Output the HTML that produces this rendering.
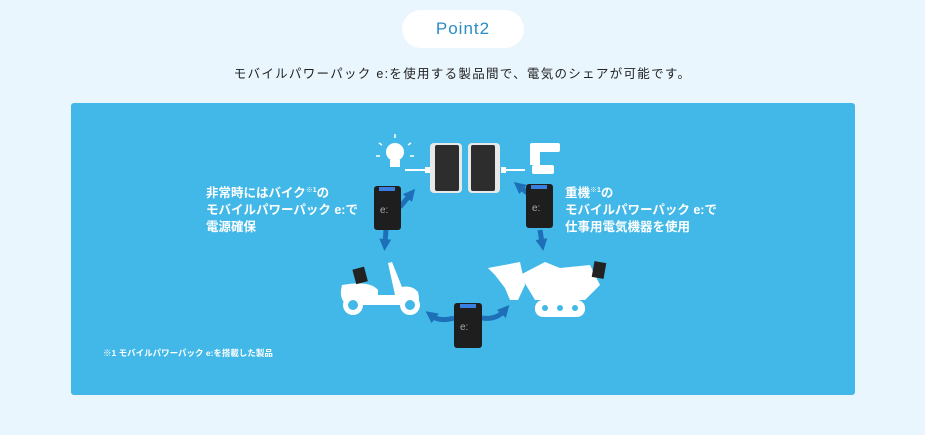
<!DOCTYPE html>
<html><head><meta charset="utf-8"><style>
html,body{margin:0;padding:0;width:925px;height:435px;background:#eaf6fd;overflow:hidden;font-family:"Liberation Sans","Noto Sans CJK JP",sans-serif}
.pill{position:absolute;left:402px;top:10px;width:122px;height:38px;border-radius:19px;background:#fff;color:#2a8cc4;font-size:17px;text-align:center;line-height:38px;letter-spacing:1px}
.sub{position:absolute;left:0;width:925px;top:63px;text-align:center;font-size:12.5px;color:#222;letter-spacing:1.3px}
.panel{position:absolute;left:71px;top:103px;width:784px;height:292px;background:#42b8e8;border-radius:3px}
.t{position:absolute;color:#fff;font-weight:bold;font-size:12.5px;line-height:17px;white-space:nowrap}
.t sup{font-size:7px;vertical-align:5px}
.note{position:absolute;left:103px;top:347px;color:#fff;font-size:8.5px;font-weight:bold}
svg{position:absolute;left:0;top:0}
</style></head><body>
<div class="pill">Point2</div>
<div class="sub">モバイルパワーパック e:を使用する製品間で、電気のシェアが可能です。</div>
<div class="panel"></div>
<div class="t" style="left:206px;top:182px">非常時にはバイク<sup>※1</sup>の<br>モバイルパワーパック e:で<br>電源確保</div>
<div class="t" style="left:565px;top:182px">重機<sup>※1</sup>の<br>モバイルパワーパック e:で<br>仕事用電気機器を使用</div>
<div class="note">※1 モバイルパワーパック e:を搭載した製品</div>
<svg width="925" height="435">
<defs><marker id="a" markerUnits="userSpaceOnUse" markerWidth="12" markerHeight="12" refX="4" refY="6" orient="auto"><path d="M0,0L12,6L0,12z" fill="#1d6fb8"/></marker></defs>
<g stroke="#1d6fb8" stroke-width="5" fill="none" marker-end="url(#a)">
<path d="M400,207 L410,195"/><path d="M386,230 L385,243"/>
<path d="M530,195 L520,187"/><path d="M540,230 L542,243"/>
<path d="M454,318 Q440,322 432,316"/><path d="M482,318 Q496,320 504,311"/>
</g>
<!-- bulb -->
<g fill="#fff"><circle cx="395" cy="152" r="9"/><rect x="390" y="160" width="10" height="7"/>
<rect x="405" y="169" width="22" height="2"/><rect x="425" y="167" width="5" height="6"/></g>
<g stroke="#fff" stroke-width="1.5"><path d="M395,138v-4M382,145l-3-2M408,145l3-2M380,156h-4M410,156h4"/></g>
<!-- power stations -->
<rect x="430" y="143" width="32" height="50" rx="4" fill="#e8e8e8"/><rect x="435" y="145" width="24" height="46" rx="2" fill="#2d2d2d"/>
<rect x="468" y="143" width="32" height="50" rx="4" fill="#e8e8e8"/><rect x="471" y="145" width="24" height="46" rx="2" fill="#2d2d2d"/>
<!-- drill -->
<g fill="#fff"><rect x="530" y="143" width="30" height="9" rx="2"/><rect x="530" y="150" width="10" height="15"/><rect x="532" y="165" width="22" height="9" rx="2"/>
<rect x="505" y="169" width="20" height="2"/><rect x="501" y="167" width="5" height="6"/></g>
<!-- batteries -->
<g><rect x="374" y="186" width="27" height="44" rx="3" fill="#1e1e1e"/><rect x="379" y="187" width="16" height="4" fill="#3a7ee0"/><text x="380" y="213" fill="#aaa" font-size="10" font-family="Liberation Sans">e:</text></g>
<g><rect x="526" y="184" width="27" height="44" rx="3" fill="#1e1e1e"/><rect x="531" y="185" width="16" height="4" fill="#3a7ee0"/><text x="532" y="211" fill="#aaa" font-size="10" font-family="Liberation Sans">e:</text></g>
<g><rect x="454" y="303" width="28" height="45" rx="3" fill="#1e1e1e"/><rect x="460" y="304" width="16" height="4" fill="#3a7ee0"/><text x="460" y="330" fill="#aaa" font-size="10" font-family="Liberation Sans">e:</text></g>
<!-- scooter -->
<g fill="#fff"><path d="M342,285 Q370,280 378,290 L378,295 L395,295 L388,263 L392,262 L402,287 Q412,285 418,292 Q420,300 418,305 L348,305 Q338,300 342,285z"/>
<circle cx="353" cy="305" r="10"/><circle cx="410" cy="305" r="10"/></g>
<circle cx="353" cy="305" r="5" fill="#42b8e8"/><circle cx="410" cy="305" r="5" fill="#42b8e8"/>
<rect x="354" y="268" width="12" height="15" fill="#222" transform="rotate(-15 360 275)"/>
<!-- excavator -->
<g fill="#fff"><path d="M488,268 L520,262 L525,285 L518,300 L510,300 L505,288 L495,275z"/>
<path d="M520,275 L545,262 L560,268 L590,265 L600,285 L585,300 L535,300z"/>
<rect x="535" y="300" width="50" height="17" rx="8"/></g>
<g fill="#42b8e8"><circle cx="545" cy="308" r="3"/><circle cx="560" cy="308" r="3"/><circle cx="575" cy="308" r="3"/></g>
<rect x="593" y="262" width="12" height="16" fill="#222" transform="rotate(10 599 270)"/>
</svg>
</body></html>
